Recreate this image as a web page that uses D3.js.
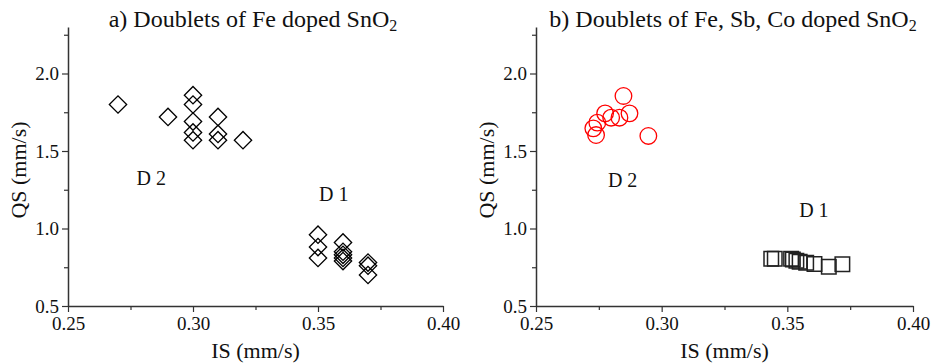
<!DOCTYPE html>
<html>
<head>
<meta charset="utf-8">
<script src="https://cdn.jsdelivr.net/npm/d3@7"></script>
<style>
  body { margin: 0; background: #fff; }
  text { font-family: "Liberation Serif", "Times New Roman", serif; fill: #111; }
</style>
</head>
<body>
<script>
var w = 936;
var h = 364;

// panel a) Fe doped SnO2, diamonds
var aIS = [0.27, 0.29, 0.30, 0.30, 0.30, 0.30, 0.30, 0.31, 0.31, 0.31, 0.32,
           0.35, 0.35, 0.35, 0.36, 0.36, 0.36, 0.36, 0.36, 0.37, 0.37, 0.37];
var aQS = [1.80, 1.72, 1.86, 1.80, 1.69, 1.62, 1.57, 1.72, 1.61, 1.57, 1.57,
           0.96, 0.88, 0.81, 0.91, 0.85, 0.83, 0.81, 0.79, 0.78, 0.76, 0.70];

// panel b) Fe, Sb, Co doped SnO2
var bD2IS = [0.2848, 0.2872, 0.2775, 0.2799, 0.2832, 0.2744, 0.2728, 0.2739, 0.2947];
var bD2QS = [1.855, 1.743, 1.743, 1.715, 1.715, 1.683, 1.646, 1.603, 1.597];
var bD1IS = [0.3436, 0.3450, 0.3515, 0.3522, 0.3536, 0.3549, 0.3575, 0.3608, 0.3665, 0.3719];
var bD1QS = [0.805, 0.805, 0.805, 0.800, 0.792, 0.786, 0.779, 0.771, 0.754, 0.769];

var xMajor = [0.25, 0.30, 0.35, 0.40];
var xMinor = [0.275, 0.325, 0.375];
var yMajor = [0.5, 1.0, 1.5, 2.0];
var yMinor = [0.75, 1.25, 1.75, 2.25];

var titles = ["a) Doublets of Fe doped SnO", "b) Doublets of Fe, Sb, Co doped SnO"];
// labels in data units [IS, QS]
var aLabels = [["D 2", 0.2774, 1.28], ["D 1", 0.3504, 1.18]];
var bLabels = [["D 2", 0.2786, 1.27], ["D 1", 0.3547, 1.072]];

var svg = d3.select("body")
    .append("svg")
    .attr("width", w)
    .attr("height", h);

function drawPanel(left, right, title, titleX) {
    var g = svg.append("g");

    var x = d3.scaleLinear().domain([0.25, 0.40]).range([left, right]);
    var y = d3.scaleLinear().domain([0.5, 2.3]).range([306, 27]);

    // major axes
    var xAxis = d3.axisBottom(x).tickValues(xMajor).tickFormat(d3.format(".2f"))
        .tickSizeInner(6).tickSizeOuter(0).tickPadding(5);
    var yAxis = d3.axisLeft(y).tickValues(yMajor).tickFormat(d3.format(".1f"))
        .tickSizeInner(6).tickSizeOuter(0).tickPadding(3);

    g.append("g").attr("transform", "translate(0,306)").call(xAxis);
    g.append("g").attr("transform", "translate(" + left + ",0)").call(yAxis);

    // minor ticks
    g.append("g").attr("transform", "translate(0,306)")
        .call(d3.axisBottom(x).tickValues(xMinor).tickFormat("").tickSizeInner(4).tickSizeOuter(0))
        .select(".domain").remove();
    g.append("g").attr("transform", "translate(" + left + ",0)")
        .call(d3.axisLeft(y).tickValues(yMinor).tickFormat("").tickSizeInner(4).tickSizeOuter(0))
        .select(".domain").remove();

    g.selectAll(".domain").attr("stroke", "#333").attr("stroke-width", 1.5);
    g.selectAll(".tick line").attr("stroke", "#333").attr("stroke-width", 1.2);
    g.selectAll(".tick text")
        .attr("font-family", "Liberation Serif, Times New Roman, serif")
        .attr("font-size", 19)
        .attr("fill", "#111");

    // axis labels
    g.append("text")
        .attr("x", (left + right) / 2)
        .attr("y", 358)
        .attr("text-anchor", "middle")
        .attr("font-size", 22)
        .text("IS (mm/s)");
    g.append("text")
        .attr("transform", "translate(" + (left - 42) + "," + 170 + ") rotate(-90)")
        .attr("text-anchor", "middle")
        .attr("font-size", 22)
        .text("QS (mm/s)");

    // title with subscript 2
    var t = g.append("text")
        .attr("x", titleX)
        .attr("y", 27)
        .attr("text-anchor", "middle")
        .attr("font-size", 24)
        .text(title);
    t.append("tspan")
        .attr("font-size", 16)
        .attr("dy", 4)
        .text("2");

    return {g: g, x: x, y: y};
}

var pa = drawPanel(68, 443, titles[0], 253);
var pb = drawPanel(536, 913, titles[1], 733);

// diamonds
var diamond = d3.symbol().type(d3.symbolSquare).size(150);
pa.g.append("g")
    .selectAll("path")
    .data(d3.range(aIS.length))
    .enter()
    .append("path")
    .attr("d", diamond)
    .attr("transform", i => "translate(" + pa.x(aIS[i]) + "," + pa.y(aQS[i]) + ") rotate(45)")
    .attr("fill", "none")
    .attr("stroke", "#000")
    .attr("stroke-width", 1.3);

// red circles
pb.g.append("g")
    .selectAll("circle")
    .data(d3.range(bD2IS.length))
    .enter()
    .append("circle")
    .attr("cx", i => pb.x(bD2IS[i]))
    .attr("cy", i => pb.y(bD2QS[i]))
    .attr("r", 8.3)
    .attr("fill", "none")
    .attr("stroke", "#f00")
    .attr("stroke-width", 1.3);

// squares
var square = d3.symbol().type(d3.symbolSquare).size(210);
pb.g.append("g")
    .selectAll("path")
    .data(d3.range(bD1IS.length))
    .enter()
    .append("path")
    .attr("d", square)
    .attr("transform", i => "translate(" + pb.x(bD1IS[i]) + "," + pb.y(bD1QS[i]) + ")")
    .attr("fill", "none")
    .attr("stroke", "#222")
    .attr("stroke-width", 1.5);

// D 1 / D 2 labels
function addLabels(p, labels) {
    p.g.selectAll("text.lab")
        .data(labels)
        .enter()
        .append("text")
        .attr("class", "lab")
        .attr("x", d => p.x(d[1]))
        .attr("y", d => p.y(d[2]))
        .attr("font-size", 20)
        .text(d => d[0]);
}
addLabels(pa, aLabels);
addLabels(pb, bLabels);
</script>
</body>
</html>
